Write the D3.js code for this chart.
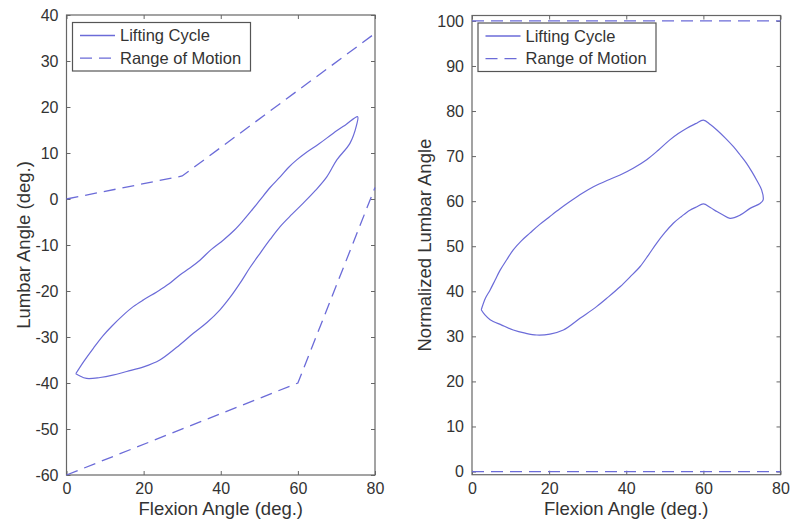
<!DOCTYPE html>
<html>
<head>
<meta charset="utf-8">
<script src="https://cdn.jsdelivr.net/npm/d3@7"></script>
<style>
  body { margin: 0; background: #fff; }
  text { font-family: "Liberation Sans", Arial, sans-serif; fill: #333; }
</style>
</head>
<body>
<svg id="chart" width="791" height="527"></svg>
<script>
// data
// left panel: lifting cycle loop (flexion, lumbar angle)
const leftCycleX = [2.4, 4.5, 7, 9.5, 11.8, 14.5, 17.3, 20, 23.4, 26.5, 29.4, 32, 34.6, 37.5, 40.7, 43.5, 45.9, 48, 50.2, 52.8, 55.4, 57.5, 59.7, 62, 65.5, 69.2, 72.5, 75.5,
                    75.2, 73.5, 70.1, 67.5, 64.5, 61.4, 58.5, 55.4, 52.8, 50.2, 47.5, 45, 42.5, 39.8, 36.5, 32.9, 28.5, 24.2, 20, 15.6, 12, 8.7, 5.2, 3.1, 2.4]
const leftCycleY = [-38, -35.3, -32.4, -29.7, -27.6, -25.4, -23.4, -21.9, -20.2, -18.5, -16.5, -15, -13.3, -11, -8.9, -6.8, -4.6, -2.5, -0.2, 2.5, 4.8, 6.8, 8.5, 10, 12, 14.3, 16.2, 17.9,
                    16, 12.1, 8.5, 4.8, 1.8, -0.9, -3.3, -6, -8.8, -11.8, -15, -18.3, -21.3, -24.1, -26.8, -29.2, -32.3, -35, -36.5, -37.5, -38.3, -38.8, -39, -38.3, -38]

// left panel: range of motion limits
const leftUpperX = [0, 30, 80]
const leftUpperY = [0, 5, 36]
const leftLowerX = [0, 60, 80]
const leftLowerY = [-60, -40, 2.5]

// right panel: normalized lifting cycle
const rightCycleX = [2.4, 3.5, 4.7, 6, 7.3, 9, 10.7, 12.8, 15, 17.5, 20.2, 22.8, 25.4, 28.5, 31.5, 35, 38.4, 41.8, 45.3, 48.3, 51.3, 53.5, 55.7, 58, 60,
                     61.8, 63.5, 65.7, 67.8, 69.5, 71.2, 72.6, 73.8, 75.1, 75.5, 74.7, 72.1, 69.5, 66.9, 65, 63.5, 61.8, 60,
                     58.2, 56.5, 54.3, 52.2, 50, 47.9, 45.8, 43.6, 41, 38.4, 35.3, 32.3, 28, 23.7, 20.2, 16.8, 13.8, 10.7, 7.7, 4.7, 3.3, 2.4]
const rightCycleY = [35.9, 38.5, 40.3, 42.5, 44.7, 47, 49.2, 51.2, 52.9, 54.8, 56.6, 58.3, 59.9, 61.7, 63.2, 64.6, 65.8, 67.3, 69.2, 71.3, 73.6, 75, 76.2, 77.2, 78,
                     77, 75.8, 74, 72.1, 70.3, 68.4, 66.5, 64.7, 62.5, 60.3, 59.5, 58.4, 56.9, 56.2, 57, 57.7, 58.6, 59.4,
                     58.7, 58, 56.6, 55.1, 53, 50.7, 48.1, 45.5, 43.2, 41, 38.7, 36.6, 34, 31.4, 30.5, 30.3, 30.7, 31.4, 32.5, 33.7, 34.8, 35.9]

// right panel: range of motion limits (normalized)
const rightLimitX = [0, 80]
const rightLowY = [0, 0]
const rightHighY = [100, 100]

// ticks and labels
const xTicks = [0, 20, 40, 60, 80]
const leftYTicks = [-60, -50, -40, -30, -20, -10, 0, 10, 20, 30, 40]
const rightYTicks = [0, 10, 20, 30, 40, 50, 60, 70, 80, 90, 100]
const legendLabels = ["Lifting Cycle", "Range of Motion"]

const lineColor = "#6b6bd8"
const dash = "12,7"
const svg = d3.select("#chart")

const zip = (xs, ys) => xs.map((x, i) => [x, ys[i]])
// plain hyphen for negatives, like the original
const plain = d => String(d)

function drawPanel(opts) {
  const x = d3.scaleLinear().domain([0, 80]).range([opts.left, opts.right])
  const y = d3.scaleLinear().domain(opts.yDomain).range([opts.bottom, opts.top])
  const g = svg.append("g")

  // axes, MATLAB style: ticks pointing inward, on all four sides
  g.append("g")
   .attr("transform", "translate(0," + opts.bottom + ")")
   .call(d3.axisBottom(x).tickValues(xTicks).tickSizeInner(-4).tickSizeOuter(0).tickPadding(8).tickFormat(plain))
  g.append("g")
   .attr("transform", "translate(0," + opts.top + ")")
   .call(d3.axisTop(x).tickValues(xTicks).tickSizeInner(-4).tickSizeOuter(0).tickFormat(""))
  g.append("g")
   .attr("transform", "translate(" + opts.left + ",0)")
   .call(d3.axisLeft(y).tickValues(opts.yTicks).tickSizeInner(-4).tickSizeOuter(0).tickPadding(8).tickFormat(plain))
  g.append("g")
   .attr("transform", "translate(" + opts.right + ",0)")
   .call(d3.axisRight(y).tickValues(opts.yTicks).tickSizeInner(-4).tickSizeOuter(0).tickFormat(""))

  g.selectAll(".domain").remove()
  g.selectAll(".tick line").attr("stroke", "#666")
  g.selectAll(".tick text").attr("font-size", 16).attr("fill", "#333")
   .style("font-family", "'Liberation Sans', Arial, sans-serif")

  g.append("rect")
   .attr("x", opts.left).attr("y", opts.top)
   .attr("width", opts.right - opts.left).attr("height", opts.bottom - opts.top)
   .attr("fill", "none").attr("stroke", "#666").attr("stroke-width", 1.2)

  const line = d3.line().x(d => x(d[0])).y(d => y(d[1]))
  const smooth = d3.line().x(d => x(d[0])).y(d => y(d[1])).curve(d3.curveCatmullRom.alpha(0.5))

  opts.dashed.forEach(pts => {
    g.append("path").datum(pts)
     .attr("d", line)
     .attr("fill", "none").attr("stroke", lineColor).attr("stroke-width", 1.3)
     .attr("stroke-dasharray", dash)
  })
  g.append("path").datum(opts.cycle)
   .attr("d", smooth)
   .attr("fill", "none").attr("stroke", lineColor).attr("stroke-width", 1.2)

  // legend
  const lx = opts.left + 6, ly = opts.top + 7.5
  const leg = g.append("g").attr("transform", "translate(" + lx + "," + ly + ")")
  leg.append("rect").attr("width", 178).attr("height", 48.5)
     .attr("fill", "#fff").attr("stroke", "#555").attr("stroke-width", 1.2)
  legendLabels.forEach((lab, i) => {
    const ry = 13 + i * 22.6
    leg.append("line").attr("x1", 7.5).attr("x2", 42.5).attr("y1", ry).attr("y2", ry)
       .attr("stroke", lineColor).attr("stroke-width", 1.3)
       .attr("stroke-dasharray", i === 1 ? dash : null)
    leg.append("text").attr("x", 47.5).attr("y", ry).attr("dy", "0.35em")
       .attr("font-size", 16.5).text(lab)
  })

  // axis titles
  g.append("text")
   .attr("x", (opts.left + opts.right) / 2).attr("y", 515)
   .attr("text-anchor", "middle").attr("font-size", 18.5)
   .text("Flexion Angle (deg.)")
  g.append("text")
   .attr("transform", "translate(" + opts.yLabelX + "," + (opts.top + opts.bottom) / 2 + ") rotate(-90)")
   .attr("text-anchor", "middle").attr("font-size", 18.5)
   .text(opts.yLabel)
}

drawPanel({
  left: 66.5, right: 375, top: 15, bottom: 475,
  yDomain: [-60, 40], yTicks: leftYTicks,
  cycle: zip(leftCycleX, leftCycleY),
  dashed: [zip(leftUpperX, leftUpperY), zip(leftLowerX, leftLowerY)],
  yLabel: "Lumbar Angle (deg.)", yLabelX: 30
})

drawPanel({
  left: 472, right: 780.5, top: 15.5, bottom: 474.7,
  yDomain: [-0.7, 101.2], yTicks: rightYTicks,
  cycle: zip(rightCycleX, rightCycleY),
  dashed: [zip(rightLimitX, rightLowY), zip(rightLimitX, rightHighY)],
  yLabel: "Normalized Lumbar Angle", yLabelX: 431
})
</script>
</body>
</html>
